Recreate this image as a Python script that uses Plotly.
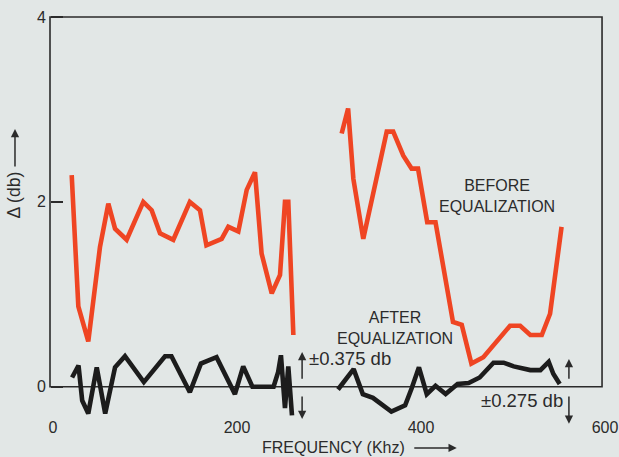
import plotly.graph_objects as go

# Frequency response deviation, two measured bands separated by a gap (None)
before_khz = [23.6, 30.8, 41.6, 54.3, 63.4, 70.7, 83.3, 101.4, 110.5, 119.6, 134, 152, 163,
              170, 186.6, 193.8, 204.7, 213.8, 222.8, 230, 241, 250, 255.4, 259, 264.5,
              None,
              317, 324, 329.7, 340.5, 366, 373, 384, 393, 400, 410, 419, 438, 447.5, 458,
              471, 500, 511, 522, 534.5, 543.5, 556]
before_db = [2.29, 0.87, 0.49, 1.51, 1.98, 1.71, 1.59, 2.0, 1.91, 1.66, 1.59, 2.0, 1.91,
             1.53, 1.60, 1.73, 1.68, 2.13, 2.32, 1.44, 1.01, 1.21, 2.0, 2.0, 0.56,
             None,
             2.74, 3.01, 2.25, 1.60, 2.76, 2.76, 2.50, 2.36, 2.36, 1.78, 1.78, 0.70, 0.67, 0.25,
             0.32, 0.66, 0.66, 0.56, 0.56, 0.79, 1.73]

after_khz = [24, 31, 35, 41.6, 50.8, 60, 70.7, 81.5, 102, 125, 132, 152, 164, 181, 201, 210,
             220, 243, 248, 251, 255.4, 259, 263,
             None,
             313, 330, 340, 351, 371, 386, 393, 401, 409.5, 419, 430, 443, 455, 467, 482, 493,
             504, 522, 533, 542, 547, 554]
after_db = [0.1, 0.23, -0.15, -0.29, 0.21, -0.29, 0.21, 0.33, 0.05, 0.33, 0.33, -0.06, 0.25,
            0.32, -0.08, 0.22, 0.0, 0.0, 0.16, 0.34, -0.23, 0.22, -0.31,
            None,
            -0.03, 0.19, -0.08, -0.12, -0.27, -0.2, -0.02, 0.21, -0.08, 0.01, -0.08, 0.03, 0.04,
            0.1, 0.26, 0.26, 0.22, 0.18, 0.18, 0.27, 0.14, 0.03]

x_ticks = [0, 200, 400, 600]
y_ticks = [0, 2, 4]

# Tolerance bands marked with double arrows: (label, arrow x, upper tip, lower tip)
tol_left = ("±0.375 db", 274, 0.375, -0.35)
tol_right = ("±0.275 db", 564, 0.30, -0.40)

X_RANGE = [-5.43, 604.3]
Y_RANGE = [-0.36, 4.076]

BG = "#e2e7e6"
INK = "#2b2b2b"
RED = "#ef4523"
FONT = "Liberation Sans, Arial, sans-serif"

fig = go.Figure()
fig.add_trace(go.Scatter(x=after_khz, y=after_db, mode="lines",
                         line=dict(color="#1c1c1c", width=4.6), connectgaps=False,
                         hoverinfo="skip"))
fig.add_trace(go.Scatter(x=before_khz, y=before_db, mode="lines",
                         line=dict(color=RED, width=4.6), connectgaps=False,
                         hoverinfo="skip"))

# Chart frame: 0..600 kHz, 0..4 db
fig.add_shape(type="rect", xref="x", yref="y", x0=0, x1=600, y0=0, y1=4,
              line=dict(color=INK, width=1.6), fillcolor="rgba(0,0,0,0)", layer="below")

ann = []
txt = dict(font=dict(family=FONT, size=16, color=INK), showarrow=False,
           xanchor="center", yanchor="middle")
ann.append(dict(x=486, y=2.06, xref="x", yref="y", text="BEFORE<br>EQUALIZATION", **txt))
ann.append(dict(x=375, y=0.64, xref="x", yref="y", text="AFTER<br>EQUALIZATION", **txt))

arrow = dict(text="", showarrow=True, arrowhead=2, arrowsize=1.1, arrowwidth=1.5,
             arrowcolor=INK)
for label, ax_x, up, dn in (tol_left, tol_right):
    for tail, tip in ((0.07, up), (-0.09, dn)):
        ann.append(dict(x=ax_x, y=tip, ax=ax_x, ay=tail, xref="x", yref="y",
                        axref="x", ayref="y", **arrow))
big = dict(font=dict(family=FONT, size=18.5, color=INK), showarrow=False,
           yanchor="middle")
ann.append(dict(x=279, y=0.31, xref="x", yref="y", text=tol_left[0],
                xanchor="left", **big))
ann.append(dict(x=560, y=-0.145, xref="x", yref="y", text=tol_right[0],
                xanchor="right", **big))

# Axis titles with arrows (placed in paper coordinates, outside the plotting area)
ann.append(dict(x=-0.0535, y=0.55, xref="paper", yref="paper", text="Δ (db)",
                textangle=-90, font=dict(family=FONT, size=17.5, color=INK),
                showarrow=False, xanchor="center", yanchor="middle"))
ann.append(dict(x=-0.0535, y=0.71, ax=0, ay=39, xref="paper", yref="paper",
                axref="pixel", ayref="pixel", **arrow))
ann.append(dict(x=0.514, y=-0.068, xref="paper", yref="paper", text="FREQUENCY (Khz)",
                font=dict(family=FONT, size=16, color=INK), showarrow=False,
                xanchor="center", yanchor="middle"))
ann.append(dict(x=0.734, y=-0.068, ax=-44, ay=0, xref="paper", yref="paper",
                axref="pixel", ayref="pixel", **arrow))

fig.update_layout(
    width=619, height=457,
    margin=dict(l=45, r=13, t=10, b=37, autoexpand=False),
    paper_bgcolor=BG, plot_bgcolor=BG,
    showlegend=False,
    annotations=ann,
    font=dict(family=FONT, size=16, color=INK),
    xaxis=dict(range=X_RANGE, tickvals=x_ticks, ticks="", showgrid=False,
               zeroline=False, showline=False, automargin=False, ticklabelshift=3,
               anchor="free", position=-Y_RANGE[0] / (Y_RANGE[1] - Y_RANGE[0]),
               ticklabelstandoff=29, tickfont=dict(size=16, color=INK)),
    yaxis=dict(range=Y_RANGE, tickvals=y_ticks, showgrid=False, zeroline=False,
               showline=False, anchor="free",
               position=-X_RANGE[0] / (X_RANGE[1] - X_RANGE[0]), automargin=False,
               ticks="inside", ticklen=12, tickwidth=1.6, tickcolor=INK,
               ticklabelstandoff=4, tickfont=dict(size=16, color=INK)),
)

fig.write_html("out.html")
